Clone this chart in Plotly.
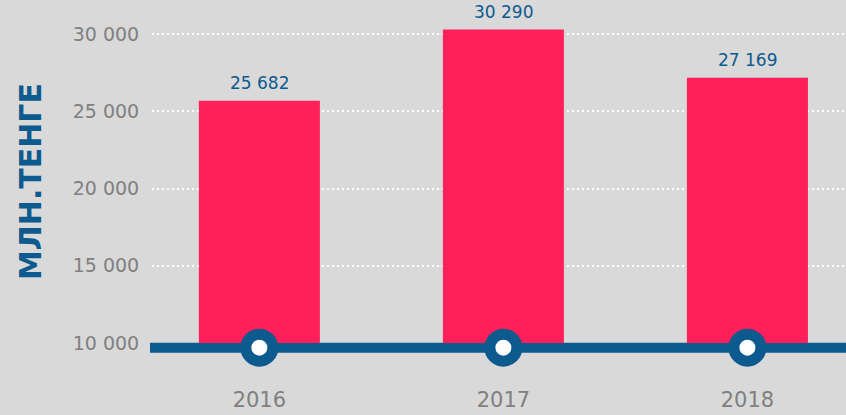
import plotly.graph_objects as go

years = [2016, 2017, 2018]
values = [25682, 30290, 27169]
value_labels = ["25 682", "30 290", "27 169"]
y_tickvals = [10000, 15000, 20000, 25000, 30000]
y_ticktext = ["10 000", "15 000", "20 000", "25 000", "30 000"]
y_title = "МЛН.ТЕНГЕ"

BASE = 10000
PINK = "#ff1f5a"
BLUE = "#0d5a8f"
GRAY = "#808080"
BG = "#d9d9d9"
LINE_Y = 9700
Y_RANGE = [7282, 32200]

fig = go.Figure()
fig.add_trace(go.Bar(
    x=years, y=[v - BASE for v in values], base=BASE,
    width=0.496, marker=dict(color=PINK, line=dict(width=0)),
    hoverinfo="skip"))
fig.add_trace(go.Scatter(
    x=years, y=[LINE_Y] * len(years), mode="markers",
    marker=dict(size=27, color="white", line=dict(color=BLUE, width=11)),
    cliponaxis=False, hoverinfo="skip"))

for yr, v, lab in zip(years, values, value_labels):
    fig.add_annotation(x=yr, y=v, text=lab, showarrow=False, yanchor="bottom",
                       yshift=6, font=dict(family="DejaVu Sans", size=17, color=BLUE))

fig.add_annotation(xref="paper", yref="paper", x=30 / 846, y=(385 - 182) / 385,
                   xanchor="center", yanchor="middle",
                   text=f"<b>{y_title}</b>", textangle=-90, showarrow=False,
                   font=dict(family="DejaVu Sans", size=30, color=BLUE))

fig.add_shape(type="line", xref="paper", yref="y", x0=150 / 846, x1=1,
              y0=LINE_Y, y1=LINE_Y, line=dict(color=BLUE, width=10), layer="between")

fig.update_layout(
    width=846, height=415,
    margin=dict(l=0, r=0, t=0, b=30),
    paper_bgcolor=BG, plot_bgcolor=BG,
    showlegend=False,
    xaxis=dict(domain=[152 / 846, 1], range=[2015.56, 2018.404],
               tickvals=years, ticktext=[str(y) for y in years],
               showgrid=False, zeroline=False, showline=False,
               ticks="",
               tickfont=dict(family="DejaVu Sans", size=21, color=GRAY),
               automargin=False),
    yaxis=dict(range=Y_RANGE, tickvals=y_tickvals, ticktext=y_ticktext,
               showgrid=False, zeroline=False, showline=False,
               ticks="outside", ticklen=8, tickcolor="rgba(0,0,0,0)",
               tickfont=dict(family="DejaVu Sans", size=19, color=GRAY),
               automargin=False),
    yaxis2=dict(range=Y_RANGE, overlaying="y", side="left",
                tickvals=y_tickvals[1:], showticklabels=False,
                showgrid=True, gridcolor="white", gridwidth=2, griddash="2px,3px",
                zeroline=False, showline=False, automargin=False),
)
# invisible trace to activate the grid axis
fig.add_trace(go.Scatter(x=[years[0]], y=[values[0]], yaxis="y2", mode="markers",
                         marker=dict(opacity=0), hoverinfo="skip"))

fig.write_html("out.html", config={"displayModeBar": False},
               post_script="document.body.style.margin='0';document.body.style.overflow='hidden';")
